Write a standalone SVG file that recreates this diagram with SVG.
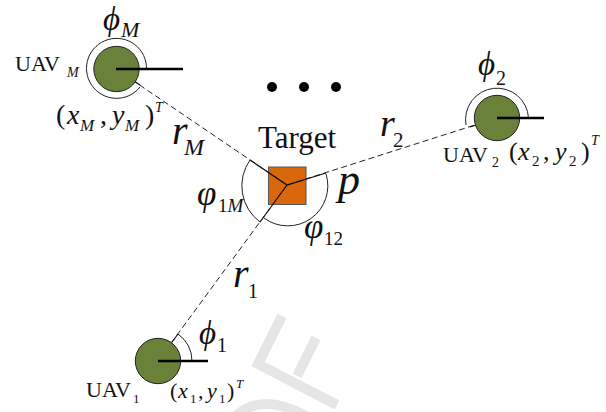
<svg xmlns="http://www.w3.org/2000/svg" width="606" height="412" viewBox="0 0 606 412">
<style>
text{font-family:"Liberation Serif","Times New Roman",serif;fill:#111}
.i{font-style:italic}
.uav{fill:#6a813a;stroke:#222;stroke-width:1}
.arc{fill:none;stroke:#222;stroke-width:1}
.dash{fill:none;stroke:#222;stroke-width:1;stroke-dasharray:6 3.5}
.sol{fill:none;stroke:#111;stroke-width:1.2}
.head{fill:none;stroke:#000;stroke-width:2.4}
.wm{fill:none;stroke:#e6e6e6;stroke-width:10}
</style>
<rect width="606" height="412" fill="#fff"/>
<g id="watermark">
<path class="wm" d="M282 316 L258 364 L337 405 M316 338 L297 376"/>
<path class="wm" d="M236 416 Q262 392 306 416"/>
</g>
<g id="target">
<rect x="268.500" y="167" width="37.500" height="37.500" fill="#d9680d" stroke="#555" stroke-width="1"/>
<text x="258" y="148" font-size="31">Target</text>
</g>
<g id="connectors">
<path class="dash" d="M116 69 L287 185 M287 185 L497 118 M287 185 L158 361"/>
<path class="sol" d="M250 160 L287 185 L326 173 M287 185 L260 222 M116 69 L140 85 M497 118 L470 127 M158 361 L178 334"/>
<path class="arc" d="M250 160 A45 45 0 0 0 260 222 M264 218 A40 40 0 0 0 326 174"/>
</g>
<g id="uav-m">
<circle class="uav" cx="116.500" cy="69" r="22.700"/>
<path class="arc" d="M146.500 69 A30 30 0 1 0 140 87"/>
<path class="head" d="M116 69 H183"/>
<text x="15" y="71" font-size="22">UAV</text>
<text x="67" y="77" font-size="14" class="i">M</text>
<text x="103" y="30" font-size="33" class="i">ϕ</text>
<text x="121" y="37" font-size="22" class="i">M</text>
<text x="56" y="124" font-size="28">(</text>
<text x="67" y="124" font-size="28" class="i">x</text>
<text x="80" y="131" font-size="17" class="i">M</text>
<text x="100" y="124" font-size="28">,</text>
<text x="112" y="124" font-size="28" class="i">y</text>
<text x="125" y="131" font-size="17" class="i">M</text>
<text x="145" y="124" font-size="28">)</text>
<text x="155" y="112" font-size="14" class="i">T</text>
</g>
<g id="uav-2">
<circle class="uav" cx="497" cy="118" r="22.700"/>
<path class="arc" d="M528.500 118 A31.500 31.500 0 1 0 466 125"/>
<path class="head" d="M497 118 H544"/>
<text x="443" y="162" font-size="22">UAV</text>
<text x="492" y="167" font-size="14">2</text>
<text x="478" y="75" font-size="33" class="i">ϕ</text>
<text x="496" y="85" font-size="20">2</text>
<text x="509" y="160" font-size="26">(</text>
<text x="518" y="160" font-size="26" class="i">x</text>
<text x="532" y="166" font-size="15">2</text>
<text x="543" y="160" font-size="26">,</text>
<text x="555" y="160" font-size="26" class="i">y</text>
<text x="569" y="166" font-size="15">2</text>
<text x="581" y="160" font-size="26">)</text>
<text x="591" y="145" font-size="14" class="i">T</text>
</g>
<g id="uav-1">
<circle class="uav" cx="158" cy="361" r="22.700"/>
<path class="arc" d="M178 334 A34 34 0 0 1 192 361"/>
<path class="head" d="M158 361 H208"/>
<text x="86" y="397" font-size="22">UAV</text>
<text x="133" y="403" font-size="13">1</text>
<text x="199" y="344" font-size="33" class="i">ϕ</text>
<text x="217" y="352" font-size="20">1</text>
<text x="170" y="398" font-size="22">(</text>
<text x="178" y="398" font-size="22" class="i">x</text>
<text x="190" y="403" font-size="13">1</text>
<text x="198" y="398" font-size="22">,</text>
<text x="207" y="398" font-size="22" class="i">y</text>
<text x="219" y="403" font-size="13">1</text>
<text x="227" y="398" font-size="22">)</text>
<text x="236" y="388" font-size="13" class="i">T</text>
</g>
<g id="labels">
<text x="172" y="144" font-size="40" class="i">r</text>
<text x="184" y="155" font-size="24" class="i">M</text>
<text x="380" y="136" font-size="38" class="i">r</text>
<text x="393" y="147" font-size="21">2</text>
<text x="233" y="287" font-size="40" class="i">r</text>
<text x="248" y="298" font-size="20">1</text>
<text x="338" y="194" font-size="44" class="i">p</text>
<text x="197" y="205" font-size="35" class="i">φ</text>
<text x="218" y="212" font-size="19">1<tspan class="i">M</tspan></text>
<text x="304" y="238" font-size="35" class="i">φ</text>
<text x="324" y="245" font-size="19">12</text>
<circle cx="272" cy="87" r="5" fill="#000"/>
<circle cx="304" cy="87" r="5" fill="#000"/>
<circle cx="336" cy="87" r="5" fill="#000"/>
</g>
</svg>
